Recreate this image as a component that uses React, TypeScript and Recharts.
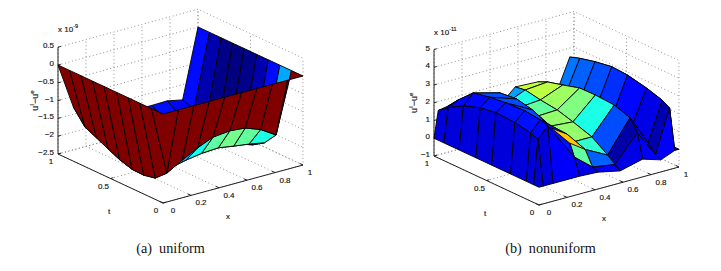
import React from "react";
import { ScatterChart, Scatter, XAxis, YAxis } from "recharts";

const W = 721;
const H = 271;

const uniformX = [0, 0.11, 0.22, 0.33, 0.44, 0.56, 0.67, 0.78, 0.89, 1];
const uniformT = [0, 0.11, 0.22, 0.33, 0.44, 0.56, 0.67, 0.78, 0.89, 1];
const uniformZ = [
  [0, 0, 0, 0, 0, 0, 0, 0, 0, 0],
  [0, -1.93, -1.68, -1.45, -1.27, -1.22, -1.26, -1.42, -1.69, 0],
  [0, -2.22, -2.05, -1.95, -1.88, -1.85, -1.92, -1.98, -2.06, 0],
  [0, -2.29, -2.2, -2.1, -2.03, -2.0, -2.07, -2.13, -2.27, 0],
  [0, -2.28, -2.3, -2.23, -2.16, -2.13, -2.2, -2.26, -2.36, 0],
  [0, -2.17, -2.32, -2.33, -2.26, -2.23, -2.3, -2.34, -2.38, 0],
  [0, -2.02, -2.25, -2.34, -2.3, -2.28, -2.34, -2.36, -2.36, 0],
  [0, -1.86, -2.1, -2.2, -2.2, -2.2, -2.24, -2.27, -2.27, 0],
  [0, -1.71, -1.9, -2.05, -2.05, -2.05, -2.05, -2.07, -2.06, 0],
  [0, -1.3, -1.6, -1.75, -1.85, -1.85, -1.85, -1.84, -1.93, 0],
];

const nonuniformX = [0, 0.03, 0.1, 0.29, 0.42, 0.58, 0.74, 0.87, 0.97, 1];
const nonuniformT = [0, 0.05, 0.12, 0.27, 0.45, 0.6, 0.76, 0.905, 1];
const nonuniformZ = [
  [0, 0, 0, 0, -0.05, -0.32, 0, -0.32, 0, 0],
  [0, 2.5, 3.1, 0.94, 0.1, -0.1, 1.35, -0.18, 2.25, 0],
  [0, 2.66, 3.25, 2.04, 0.9, 0.24, 2, 0.3, 2.5, 0],
  [0, 2.83, 3.35, 1.97, 0.85, 0.85, 2.3, 0.9, 2.77, 0],
  [0, 2.9, 3.3, 2.5, 1.3, 1.2, 2.37, 1.1, 3, 0],
  [0, 2.75, 3.2, 2.7, 1.4, 1.46, 2.35, 1.2, 3.06, 0],
  [0, 2.42, 3, 2.6, 1.47, 1.58, 2.08, 1.1, 2.9, 0],
  [0, 1.92, 2.2, 1.9, 1.2, 1.74, 1.85, 0.9, 2.69, 0],
  [0, 1.5, 1.6, 0.8, 0.5, 1.65, 1.59, 0.6, 2.5, 0],
];
// colour index of each face on the jet map
const nonuniformShade = [
  [0.08, 0.09, 0.12, 0.1, 0.12, 0.1, 0.12, 0.12, 0.1],
  [0.09, 0.13, 0.14, 0.47, 0.22, 0.04, 0.12, 0.05, 0.1],
  [0.09, 0.14, 0.17, 0.68, 0.42, 0.2, 0.06, 0.1, 0.1],
  [0.09, 0.14, 0.2, 0.2, 0.52, 0.4, 0.1, 0.13, 0.1],
  [0.09, 0.14, 0.2, 0.3, 0.52, 0.5, 0.1, 0.17, 0.1],
  [0.09, 0.13, 0.2, 0.3, 0.47, 0.53, 0.1, 0.2, 0.1],
  [0.09, 0.13, 0.2, 0.3, 0.4, 0.56, 0.1, 0.22, 0.1],
  [0.09, 0.13, 0.2, 0.3, 0.28, 0.57, 0.1, 0.24, 0.1],
];

const xTicks = [0, 0.2, 0.4, 0.6, 0.8, 1];
const tTicks = [0, 0.5, 1];
const uniformZTicks = [-2.5, -2, -1.5, -1, -0.5, 0, 0.5];
const nonuniformZTicks = [-1, 0, 1, 2, 3, 4, 5];

function jet(v: number) {
  const c = (d: number) => Math.round(255 * Math.max(0, Math.min(1, 1.5 - Math.abs(4 * v - d))));
  return `rgb(${c(3)},${c(2)},${c(1)})`;
}

const uniformMin = -2.38;
const uniformShade = uniformZ.slice(0, -1).map((row) => row.slice(0, -1).map((z) => (z - uniformMin) / -uniformMin));

const panels = [
  {
    xs: uniformX, ts: uniformT, zs: uniformZ, shade: uniformShade, zTicks: uniformZTicks,
    left: 163, bottom: 203, zScale: 35.6, exp: "-9", zLabelDx: -23,
    caption: "(a)  uniform", captionX: 170.5, frontFace: "",
  },
  {
    xs: nonuniformX, ts: nonuniformT, zs: nonuniformZ, shade: nonuniformShade, zTicks: nonuniformZTicks,
    left: 539, bottom: 205, zScale: 17.75, exp: "-11", zLabelDx: -20,
    // the yellow sliver folds over its neighbours, plain back-to-front order would hide it
    caption: "(b)  nonuniform", captionX: 550.5, frontFace: "3-2",
  },
];

type Panel = (typeof panels)[number];

// orthographic view of the box, same for both plots
const project = (p: Panel, x: number, t: number, z: number) => {
  const floor = p.zTicks[0];
  return { sx: p.left + 140 * x - 105 * t, sy: p.bottom - 38 * x - 49 * t - p.zScale * (z - floor) };
};

function faceShape(fill: string) {
  return (props: any) => (
    <polygon
      points={props.points.map((q: any) => `${q.x},${q.y}`).join(" ")}
      fill={fill}
      stroke="#000"
      strokeWidth={0.9}
      strokeLinejoin="round"
    />
  );
}

const noDot = () => <g />;

const tickFont = { fontFamily: "Liberation Sans", fill: "#111", stroke: "#111", strokeWidth: 0.15 };

function Label(props: any) {
  const { cx, cy, payload } = props;
  const d = payload;
  if (d.kind === "caption") {
    return (
      <text x={cx} y={cy} textAnchor="middle" fontFamily="Liberation Serif" fontSize={14.2} fill="#111" style={{ whiteSpace: "pre" }}>
        {d.text}
      </text>
    );
  }
  if (d.kind === "zlabel") {
    return (
      <text x={cx} y={cy} textAnchor="middle" dominantBaseline="central" fontSize={9} {...tickFont}
        transform={`rotate(-90 ${cx} ${cy})`}>
        u<tspan dy={-3} fontSize={6}>I</tspan><tspan dy={3}>−u</tspan><tspan dy={-3} fontSize={6}>e</tspan>
      </text>
    );
  }
  if (d.kind === "exp") {
    return (
      <text x={cx} y={cy} fontSize={8} {...tickFont}>
        x 10<tspan dy={-4} fontSize={5.5}>{d.text}</tspan>
      </text>
    );
  }
  return (
    <text x={cx} y={cy} textAnchor={d.anchor} dominantBaseline="central" fontSize={8} {...tickFont}>
      {d.text}
    </text>
  );
}

function gridLines(p: Panel) {
  const zLo = p.zTicks[0];
  const zHi = p.zTicks[p.zTicks.length - 1];
  const lines: any[][] = [];
  xTicks.forEach((x) => {
    lines.push([project(p, x, 0, zLo), project(p, x, 1, zLo), project(p, x, 1, zHi)]);
  });
  tTicks.forEach((t) => {
    lines.push([project(p, 0, t, zLo), project(p, 1, t, zLo), project(p, 1, t, zHi)]);
  });
  p.zTicks.forEach((z) => {
    lines.push([project(p, 0, 1, z), project(p, 1, 1, z), project(p, 1, 0, z)]);
  });
  return lines;
}

function axisLines(p: Panel) {
  const zLo = p.zTicks[0];
  const zHi = p.zTicks[p.zTicks.length - 1];
  const lines: any[][] = [
    [project(p, 0, 1, zHi), project(p, 0, 1, zLo), project(p, 0, 0, zLo), project(p, 1, 0, zLo)],
  ];
  p.zTicks.forEach((z) => lines.push([project(p, 0, 1, z), project(p, 0.02, 1, z)]));
  tTicks.forEach((t) => lines.push([project(p, 0, t, zLo), project(p, 0.02, t, zLo)]));
  xTicks.forEach((x) => lines.push([project(p, x, 0, zLo), project(p, x, 0.03, zLo)]));
  return lines;
}

function labels(p: Panel) {
  const zLo = p.zTicks[0];
  const zHi = p.zTicks[p.zTicks.length - 1];
  const out: any[] = [];
  const add = (q: any, dx: number, dy: number, text: string, anchor = "middle", kind = "tick") =>
    out.push({ sx: q.sx + dx, sy: q.sy + dy, text, anchor, kind });
  p.zTicks.forEach((z) => add(project(p, 0, 1, z), -4, -1.5, String(z).replace("-", "−"), "end"));
  tTicks.forEach((t) => add(project(p, 0, t, zLo), -7, 7.5, String(t)));
  xTicks.forEach((x) => add(project(p, x, 0, zLo), x === 1 ? 7 : 10, 7.5, String(x)));
  add(project(p, 0.5, 0, zLo), -5, 32, "x");
  add(project(p, 0, 0.5, zLo), -1.5, 33, "t");
  add(project(p, 0, 1, (zLo + zHi) / 2), p.zLabelDx, 0, "", "middle", "zlabel");
  add(project(p, 0, 1, zHi), 0, -15, p.exp, "start", "exp");
  out.push({ sx: p.captionX, sy: 252.5, text: p.caption, kind: "caption" });
  return out;
}

function faces(p: Panel) {
  // far corner first, so nearer faces paint over it
  const out: { pts: any[]; fill: string; key: string }[] = [];
  const last: typeof out = [];
  for (let j = p.ts.length - 2; j >= 0; j--) {
    for (let i = p.xs.length - 2; i >= 0; i--) {
      const face = {
        key: `${p.exp}-${i}-${j}`,
        fill: jet(p.shade[j][i]),
        pts: [
          project(p, p.xs[i], p.ts[j], p.zs[j][i]),
          project(p, p.xs[i + 1], p.ts[j], p.zs[j][i + 1]),
          project(p, p.xs[i + 1], p.ts[j + 1], p.zs[j + 1][i + 1]),
          project(p, p.xs[i], p.ts[j + 1], p.zs[j + 1][i]),
        ],
      };
      (p.frontFace === `${i}-${j}` ? last : out).push(face);
    }
  }
  return [...out, ...last];
}

export default function App() {
  return (
    <div style={{ position: "absolute", left: 0, top: 0, width: W, height: H, background: "#fff" }}>
      <ScatterChart width={W} height={H} margin={{ top: 0, right: 0, bottom: 0, left: 0 }}>
        <XAxis type="number" dataKey="sx" domain={[0, W]} hide />
        <YAxis type="number" dataKey="sy" domain={[0, H]} reversed hide />
        {panels.flatMap((p, n) => [
          ...gridLines(p).map((pts, k) => (
            <Scatter key={`g${n}-${k}`} data={pts} shape={noDot} isAnimationActive={false}
              line={{ stroke: "#777", strokeWidth: 0.8, strokeDasharray: "1 2.6" }} />
          )),
          ...axisLines(p).map((pts, k) => (
            <Scatter key={`a${n}-${k}`} data={pts} shape={noDot} isAnimationActive={false}
              line={{ stroke: "#222", strokeWidth: 1 }} />
          )),
          ...faces(p).map((f) => (
            <Scatter key={f.key} data={f.pts} shape={noDot} isAnimationActive={false} line={faceShape(f.fill)} />
          )),
          <Scatter key={`l${n}`} data={labels(p)} shape={Label} isAnimationActive={false} />,
        ])}
      </ScatterChart>
    </div>
  );
}
